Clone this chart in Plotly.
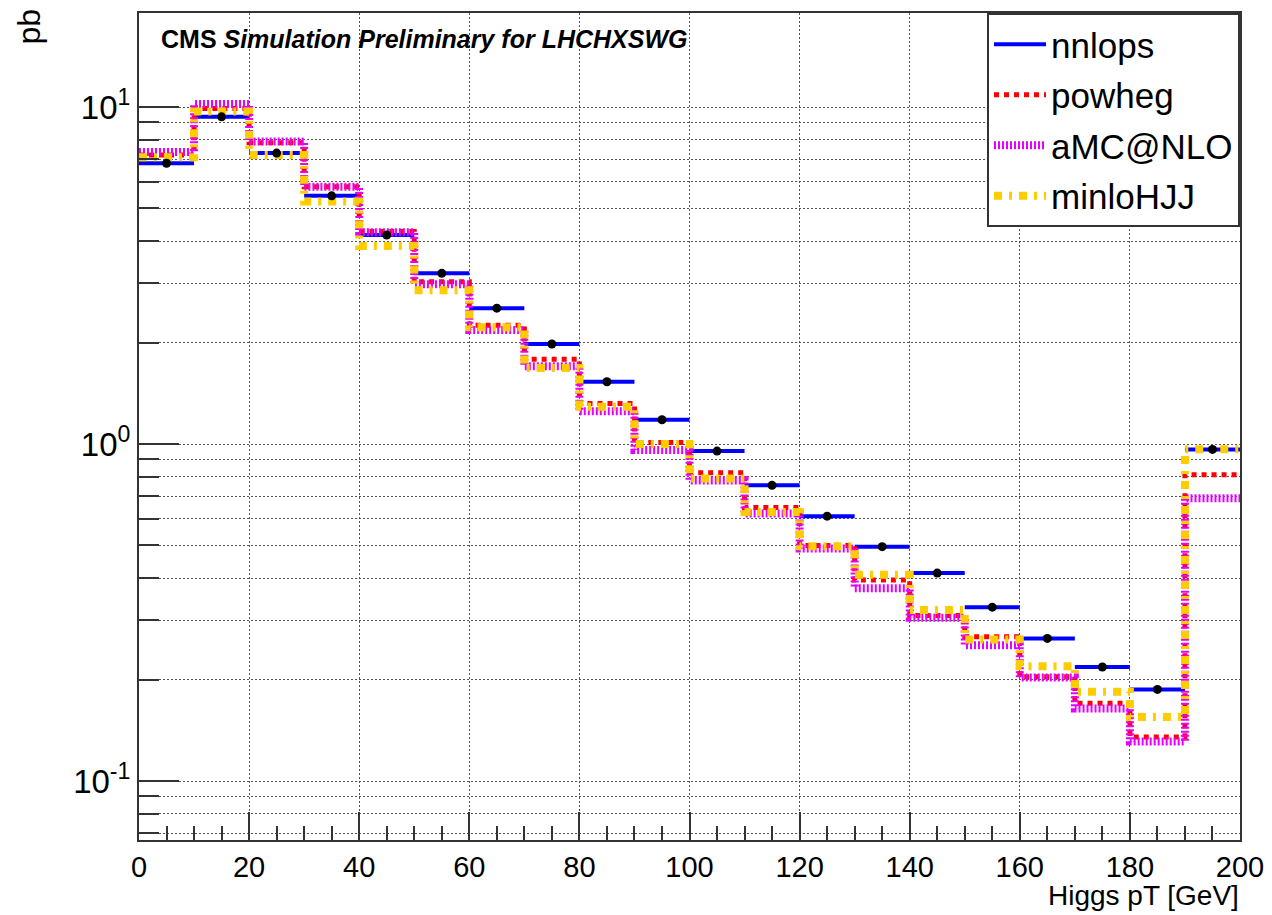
import plotly.graph_objects as go

# Higgs pT bin edges [GeV] (10 GeV bins, 0-200)
bin_edges = [0, 10, 20, 30, 40, 50, 60, 70, 80, 90, 100,
             110, 120, 130, 140, 150, 160, 170, 180, 190, 200]

# Cross section per bin [pb]
nnlops = [6.81, 9.35, 7.30, 5.45, 4.17, 3.21, 2.53, 1.98, 1.53, 1.18,
          0.953, 0.754, 0.611, 0.496, 0.414, 0.328, 0.265, 0.218, 0.187, 0.964]
powheg = [7.20, 9.90, 7.84, 5.80, 4.27, 3.03, 2.25, 1.785, 1.32, 1.01,
          0.822, 0.648, 0.500, 0.395, 0.310, 0.268, 0.204, 0.170, 0.135, 0.810]
amcnlo = [7.35, 10.2, 7.90, 5.80, 4.25, 2.98, 2.18, 1.70, 1.25, 0.960,
          0.780, 0.622, 0.490, 0.373, 0.305, 0.253, 0.203, 0.164, 0.131, 0.690]
minlohjj = [7.10, 9.70, 7.20, 5.24, 3.87, 2.86, 2.22, 1.68, 1.29, 1.00,
            0.790, 0.628, 0.497, 0.409, 0.322, 0.263, 0.219, 0.184, 0.155, 0.965]

y_major = [0.1, 1, 10]
y_major_text = ["10<sup>-1</sup>", "10<sup>0</sup>", "10<sup>1</sup>"]
y_minor = [0.07, 0.08, 0.09] + [k / 10 for k in range(2, 10)] + list(range(2, 10))

FONT = "Liberation Sans, Arial, Helvetica, sans-serif"

bin_centers = [(a + b) / 2 for a, b in zip(bin_edges[:-1], bin_edges[1:])]


def step_xy(values):
    """Histogram outline: x at bin edges, last value repeated, drawn with hv shape."""
    return bin_edges, list(values) + [values[-1]]


fig = go.Figure()

# nnlops: horizontal bars across each bin (no vertical connectors)
seg_x, seg_y = [], []
for lo, hi, v in zip(bin_edges[:-1], bin_edges[1:], nnlops):
    seg_x += [lo, hi, None]
    seg_y += [v, v, None]
fig.add_trace(go.Scatter(
    x=seg_x, y=seg_y, mode="lines", name="nnlops", legendgroup="a",
    line=dict(color="#0000ff", width=4),
))

styles = [
    ("powheg", powheg, "#ff0000", 5, "5px,5px", "b"),
    ("aMC@NLO", amcnlo, "#e600ff", 8, "2px,2px", "c"),
    ("minloHJJ", minlohjj, "#ffcc00", 8, "8px,7px,3px,7px", "d"),
]
for name, vals, color, width, dash, grp in styles:
    sx, sy = step_xy(vals)
    fig.add_trace(go.Scatter(
        x=sx, y=sy, mode="lines", name=name, legendgroup=grp,
        line=dict(color=color, width=width, dash=dash, shape="hv"),
    ))

# nnlops bin-centre markers
fig.add_trace(go.Scatter(
    x=bin_centers, y=nnlops, mode="markers", showlegend=False,
    marker=dict(color="black", size=9, symbol="circle"),
))

grid = dict(gridcolor="#555555", gridwidth=1, griddash="2px,2px")

fig.update_layout(
    width=1272, height=915,
    margin=dict(l=139, r=32, t=13, b=75),
    paper_bgcolor="white", plot_bgcolor="white",
    font=dict(family=FONT, color="black", size=30),
    showlegend=True,
    legend=dict(
        x=1, y=1, xanchor="right", yanchor="top",
        bgcolor="white", bordercolor="#333333", borderwidth=2,
        font=dict(family=FONT, size=35, color="black"),
        itemwidth=52, tracegroupgap=2,
    ),
    xaxis=dict(
        range=[0, 200], tickmode="array", tickvals=list(range(0, 201, 20)),
        ticks="inside", ticklen=28, tickwidth=2, tickcolor="#333333",
        showline=True, linecolor="#333333", linewidth=2, mirror=True,
        showgrid=True, zeroline=False, automargin=False,
        tickfont=dict(family=FONT, size=29),
        minor=dict(tickmode="array", tickvals=[v for v in range(5, 200, 5) if v % 20],
                   ticks="inside", ticklen=14, tickwidth=2, tickcolor="#333333",
                   showgrid=False),
        **grid,
    ),
    yaxis=dict(
        type="log", range=[-1.175, 1.279],
        tickmode="array", tickvals=y_major, ticktext=y_major_text,
        ticks="inside", ticklen=40, tickwidth=2, tickcolor="#333333",
        showline=True, linecolor="#333333", linewidth=2, mirror=True,
        showgrid=True, zeroline=False, automargin=False,
        tickfont=dict(family=FONT, size=33),
        minor=dict(tickmode="array", tickvals=y_minor,
                   ticks="inside", ticklen=20, tickwidth=2, tickcolor="#333333",
                   showgrid=True, **grid),
        **grid,
    ),
)

fig.add_annotation(
    xref="paper", yref="paper", x=0.018, y=0.988, xanchor="left", yanchor="top",
    text="<b>CMS <i>Simulation Preliminary for LHCHXSWG</i></b>",
    showarrow=False, font=dict(family=FONT, size=25, color="black"),
)
fig.add_annotation(
    xref="paper", yref="paper", x=1.0, y=-0.0875, xanchor="right", yanchor="bottom",
    text="Higgs pT [GeV]", showarrow=False, borderpad=0,
    font=dict(family=FONT, size=28, color="black"),
)
fig.add_annotation(
    xref="paper", yref="paper", x=-0.118, y=1.008, xanchor="left", yanchor="top",
    text="pb", textangle=-90, showarrow=False,
    font=dict(family=FONT, size=32, color="black"),
)

fig.write_html("out.html")
